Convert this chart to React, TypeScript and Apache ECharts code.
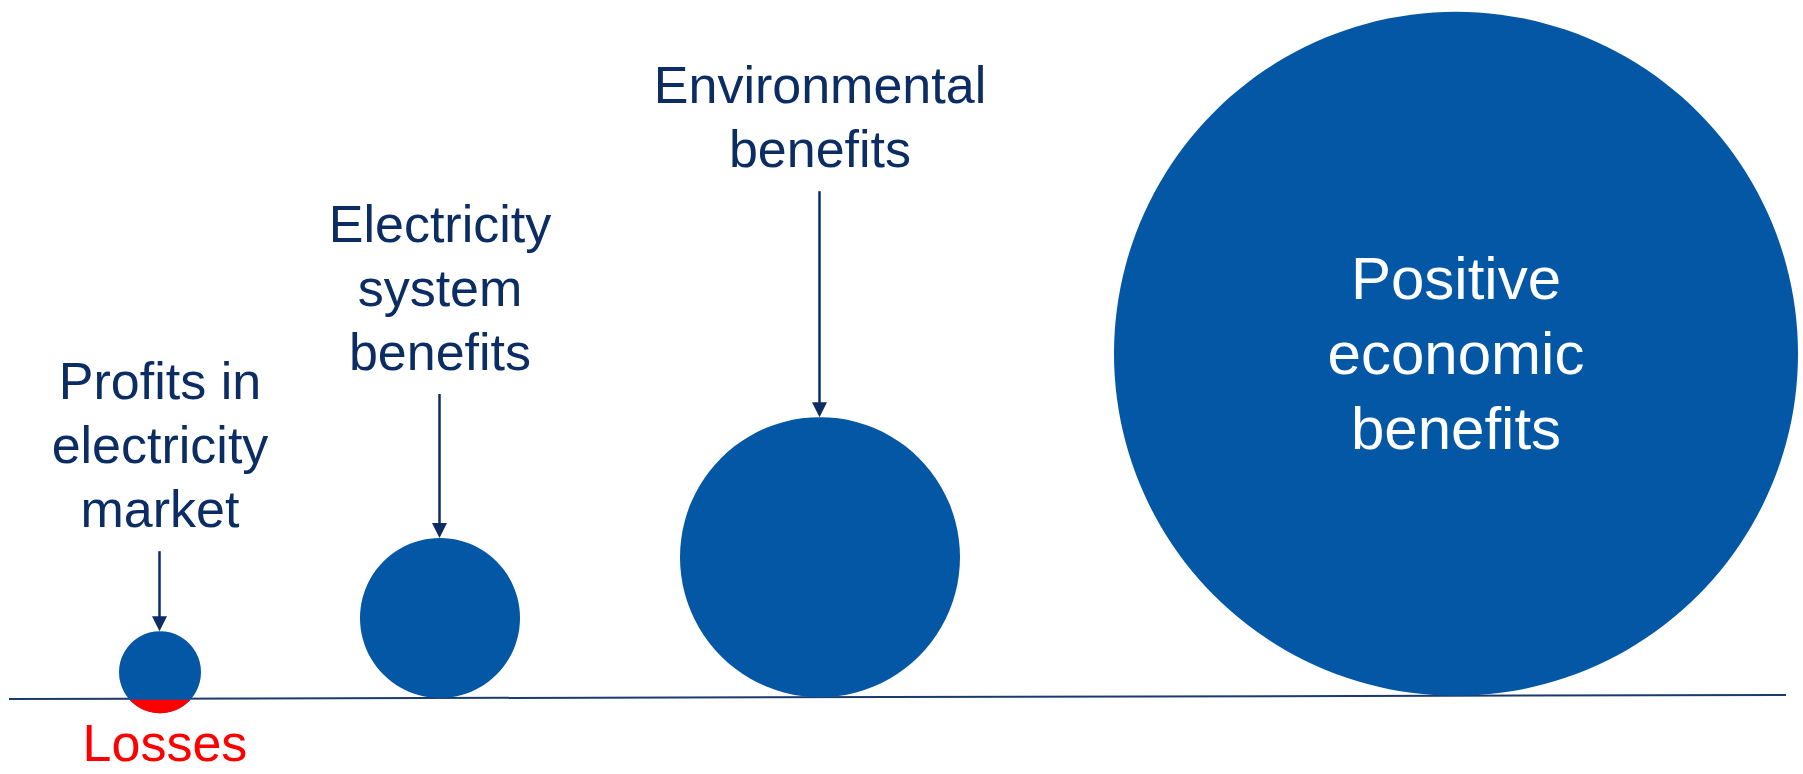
import React, { useEffect, useRef } from "react";
import * as echarts from "echarts";

// ---- data ----
const categories = [
  "Profits in electricity market",
  "Electricity system benefits",
  "Environmental benefits",
  "Positive economic benefits",
];
const labelLines = [
  ["Profits in", "electricity", "market"],
  ["Electricity", "system", "benefits"],
  ["Environmental", "benefits"],
  ["Positive", "economic", "benefits"],
];
const benefitSize = [82, 160, 280, 684]; // bubble diameters (relative magnitude)
const lossSize = [14.5, 0, 0, 0]; // part of the bubble below the zero line (losses)
const lossLabel = "Losses";

// ---- layout ----
const bubbleX = [160, 440, 820, 1456];
const arrowLength = [80, 144, 226, 0];
const labelInside = [false, false, false, true];
const baselineStart = [9, 0];
const baselineEnd = [1786, 4];

const BLUE = "#0357a5";
const NAVY = "#0b2d64";
const RED = "#ff0000";
const FONT = '"Liberation Sans", Arial, Helvetica, sans-serif';

function baselineAt(x: number) {
  const t = (x - baselineStart[0]) / (baselineEnd[0] - baselineStart[0]);
  return baselineStart[1] + t * (baselineEnd[1] - baselineStart[1]);
}

function textEl(text: string, x: number, baseline: number, size: number, fill: string, lineHeight?: number) {
  return {
    type: "text",
    style: {
      text,
      x,
      y: baseline - 0.3465 * size,
      fill,
      font: `${size}px ${FONT}`,
      lineHeight: lineHeight || size,
      textAlign: "center",
      textVerticalAlign: "middle",
      align: "center",
      verticalAlign: "middle",
    },
  };
}

export default function App() {
  const ref = useRef<HTMLDivElement>(null);
  useEffect(() => {
    if (!ref.current) return;
    const chart = echarts.init(ref.current, undefined, { renderer: "svg" });
    const data = categories.map((name, i) => ({
      name,
      value: [bubbleX[i], benefitSize[i], lossSize[i], i],
    }));
    chart.setOption({
      animation: false,
      backgroundColor: "#ffffff",
      grid: { left: 0, right: 0, top: 0, bottom: 0 },
      xAxis: { type: "value", min: 0, max: 1803, show: false },
      yAxis: { type: "value", min: -75, max: 699, show: false },
      series: [
        {
          type: "line",
          data: [baselineStart, baselineEnd],
          symbol: "none",
          lineStyle: { color: "#1b3a6e", width: 2 },
          z: 1,
          silent: true,
        },
        {
          type: "custom",
          clip: false,
          z: 2,
          data,
          renderItem: (params: any, api: any) => {
            const x = api.value(0);
            const d = api.value(1);
            const loss = api.value(2);
            const i = api.value(3);
            const base = baselineAt(x);
            const c = api.coord([x, base - loss + d / 2]);
            const cx = c[0];
            const cy = c[1];
            const r = api.size([0, d / 2])[1];
            const children: any[] = [
              { type: "circle", shape: { cx, cy, r }, style: { fill: BLUE } },
            ];
            if (loss > 0) {
              const y0 = api.coord([x, base])[1] + 1;
              const h = y0 - cy;
              const a0 = Math.asin(Math.min(1, h / r));
              const pts: number[][] = [];
              const N = 48;
              for (let k = 0; k <= N; k++) {
                const a = a0 + ((Math.PI - 2 * a0) * k) / N;
                pts.push([cx + r * Math.cos(a), cy + r * Math.sin(a)]);
              }
              children.push({ type: "polygon", shape: { points: pts }, style: { fill: RED } });
              children.push(textEl(lossLabel, cx + 5, cy + r + 48, 52, RED, 52));
            }
            const lines = labelLines[i];
            const top = cy - r;
            if (labelInside[i]) {
              const size = 60;
              const step = 75;
              const n = lines.length;
              lines.forEach((t, k) => {
                const bl = cy + 21 + (k - (n - 1) / 2) * step;
                children.push(textEl(t, cx, bl, size, "#ffffff"));
              });
            } else {
              const arrowTop = top - arrowLength[i];
              const last = arrowTop - 24;
              const n = lines.length;
              lines.forEach((t, k) => {
                children.push(textEl(t, cx, last - (n - 1 - k) * 64, 52, NAVY));
              });
              children.push({
                type: "line",
                shape: { x1: cx - 0.5, y1: arrowTop, x2: cx - 0.5, y2: top - 13 },
                style: { stroke: NAVY, lineWidth: 2.5 },
              });
              children.push({
                type: "polygon",
                shape: {
                  points: [
                    [cx - 8, top - 15],
                    [cx + 7, top - 15],
                    [cx - 0.5, top],
                  ],
                },
                style: { fill: NAVY },
              });
            }
            return { type: "group", children };
          },
        },
      ],
    });
    return () => chart.dispose();
  }, []);
  return (
    <div
      ref={ref}
      style={{ position: "absolute", left: 0, top: 0, width: 1803, height: 774 }}
    />
  );
}
